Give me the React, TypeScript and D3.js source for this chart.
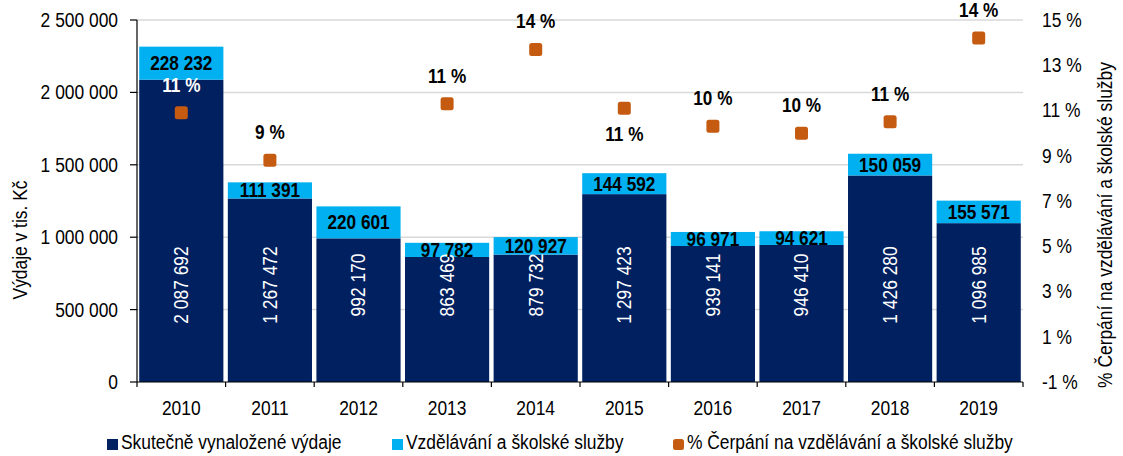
import React from "react";
import * as d3 from "d3";

const years = ["2010", "2011", "2012", "2013", "2014", "2015", "2016", "2017", "2018", "2019"];
const spent = [2087692, 1267472, 992170, 863469, 879732, 1297423, 939141, 946410, 1426280, 1096985];
const education = [228232, 111391, 220601, 97782, 120927, 144592, 96971, 94621, 150059, 155571];
const percent: (number | null)[] = [10.9, 8.8, null, 11.3, 13.7, 11.1, 10.3, 10.0, 10.5, 14.2];
const leftTicks = [0, 500000, 1000000, 1500000, 2000000, 2500000];
const rightTicks = [-1, 1, 3, 5, 7, 9, 11, 13, 15];
const legendLabels = [
  "Skutečně vynaložené výdaje",
  "Vzdělávání a školské služby",
  "% Čerpání na vzdělávání a školské služby",
];

const NAVY = "#002060";
const LIGHT = "#00B0F0";
const ORANGE = "#C55A11";
const FONT = "'Liberation Sans', Arial, sans-serif";
const SX = 0.87;
const FS = 20;

const fmt = (v: number) => d3.format(",")(v).replace(/,/g, " ");

type TProps = {
  x: number;
  y: number;
  rotate?: number;
  anchor?: "start" | "middle" | "end";
  bold?: boolean;
  fill?: string;
  sx?: number;
  children: React.ReactNode;
};

function NText({ x, y, rotate = 0, anchor = "start", bold = false, fill = "#000", sx = SX, children }: TProps) {
  return (
    <text
      transform={`translate(${x},${y}) rotate(${rotate}) scale(${sx},1)`}
      textAnchor={anchor}
      dominantBaseline="central"
      fontSize={FS}
      fontWeight={bold ? "bold" : "normal"}
      fill={fill}
    >
      {children}
    </text>
  );
}

export default function App() {
  const W = 1123, H = 456;
  const left = 137, right = 1023, top = 20, bottom = 382;
  const x = d3.scaleBand<string>().domain(years).range([left, right]).paddingInner(0.05).paddingOuter(0.025);
  const y = d3.scaleLinear().domain([0, 2500000]).range([bottom, top]);
  const yr = d3.scaleLinear().domain([-1, 15]).range([bottom, top]);

  const pctOffset = (i: number) => (i === 5 ? 26 : -28);

  return (
    <svg width={W} height={H} style={{ position: "absolute", left: 0, top: 0, fontFamily: FONT }}>
      <rect width={W} height={H} fill="#fff" />
      {leftTicks.slice(1).map((t) => (
        <line key={t} x1={left} x2={right} y1={y(t)} y2={y(t)} stroke="#D9D9D9" strokeWidth={1.5} />
      ))}
      {years.map((yv, i) => {
        const bx = x(yv)!;
        const bw = x.bandwidth();
        const y0 = y(0), y1 = y(spent[i]), y2 = y(spent[i] + education[i]);
        return (
          <g key={yv}>
            <rect x={bx} y={y1} width={bw} height={y0 - y1} fill={NAVY} />
            <rect x={bx} y={y2} width={bw} height={y1 - y2} fill={LIGHT} />
            <NText x={bx + bw / 2} y={y0 - 97} rotate={-90} anchor="middle" fill="#fff">
              {fmt(spent[i])}
            </NText>
            <NText x={bx + bw / 2} y={(y1 + y2) / 2} anchor="middle" bold sx={0.86}>
              {fmt(education[i])}
            </NText>
          </g>
        );
      })}
      {/* left axis */}
      <line x1={left} x2={left} y1={top} y2={bottom} stroke="#000" strokeWidth={1.2} />
      {leftTicks.map((t) => (
        <g key={t}>
          <line x1={left - 7} x2={left} y1={y(t)} y2={y(t)} stroke="#000" strokeWidth={1.2} />
          <NText x={118} y={y(t)} anchor="end">{fmt(t)}</NText>
        </g>
      ))}
      {/* x axis */}
      <line x1={left} x2={right} y1={bottom} y2={bottom} stroke="#000" strokeWidth={1.2} />
      {d3.range(years.length + 1).map((k) => {
        const xx = left + ((right - left) / years.length) * k;
        return <line key={k} x1={xx} x2={xx} y1={bottom} y2={bottom + 5} stroke="#000" strokeWidth={1.2} />;
      })}
      {years.map((yv) => (
        <NText key={yv} x={x(yv)! + x.bandwidth() / 2} y={408} anchor="middle">{yv}</NText>
      ))}
      {/* right axis labels */}
      {rightTicks.map((t) => (
        <NText key={t} x={1042} y={yr(t)}>{`${t} %`}</NText>
      ))}
      {/* percent points */}
      {percent.map((p, i) => {
        if (p === null) return null;
        const cx = x(years[i])! + x.bandwidth() / 2;
        const cy = yr(p);
        return (
          <g key={i}>
            <rect x={cx - 6.5} y={cy - 6.5} width={13} height={13} rx={2.5} fill={ORANGE} />
            <NText x={cx} y={cy + pctOffset(i)} anchor="middle" bold sx={0.86} fill={i === 0 ? "#fff" : "#000"}>
              {`${Math.round(p)} %`}
            </NText>
          </g>
        );
      })}
      {/* axis titles */}
      <NText x={20} y={240} rotate={-90} anchor="middle">Výdaje v tis. Kč</NText>
      <NText x={1105} y={225} rotate={-90} anchor="middle">% Čerpání na vzdělávání a školské služby</NText>
      {/* legend */}
      <g>
        <rect x={107} y={439} width={11} height={11} fill={NAVY} />
        <NText x={121} y={442}>{legendLabels[0]}</NText>
        <rect x={392} y={439} width={11} height={11} fill={LIGHT} />
        <NText x={406} y={442}>{legendLabels[1]}</NText>
        <rect x={673} y={439} width={11} height={11} rx={2.5} fill={ORANGE} />
        <NText x={687} y={442}>{legendLabels[2]}</NText>
      </g>
    </svg>
  );
}
